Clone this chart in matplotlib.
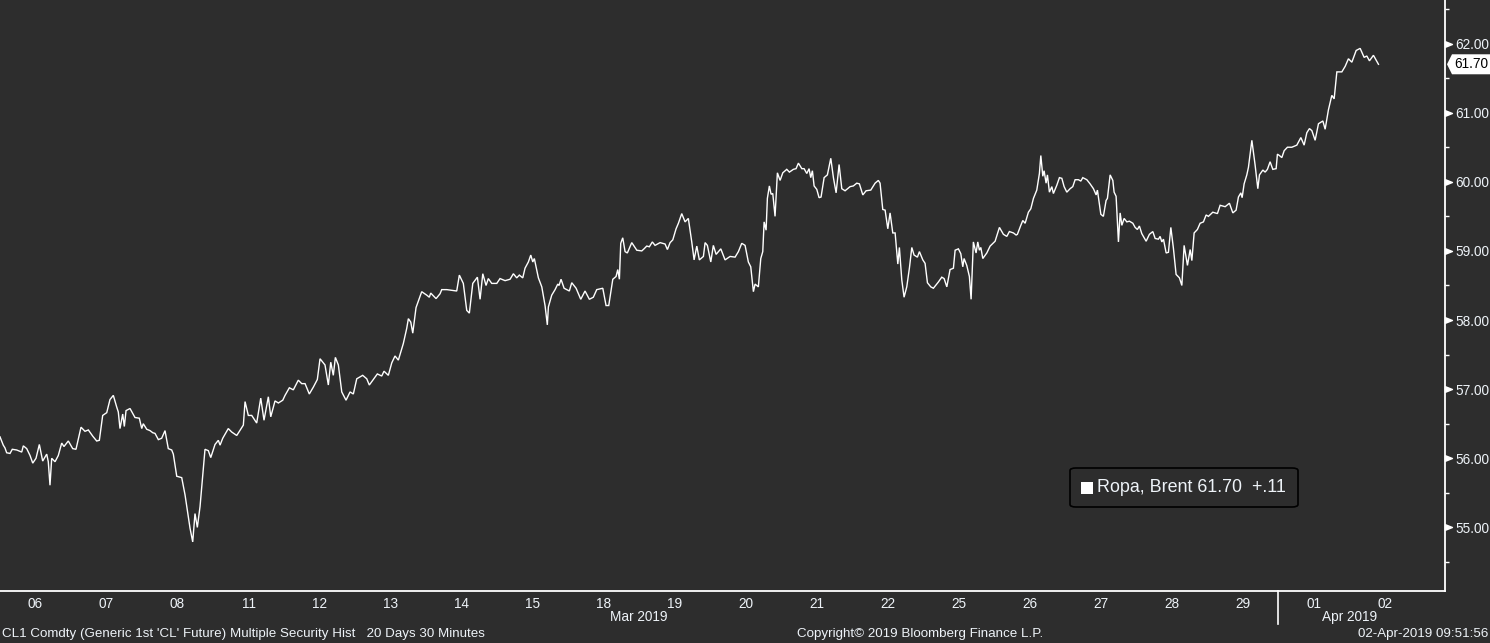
import numpy as np
import matplotlib
matplotlib.use('Agg')
import matplotlib.pyplot as plt
import matplotlib.transforms as mtransforms
from matplotlib.patches import FancyBboxPatch, Rectangle, Polygon
from matplotlib.lines import Line2D
from matplotlib.path import Path

# ---------------- data ----------------
# time in trading days since the open of the 06-Mar session, price in USD
t_days = [
    0.000, 0.046, 0.070, 0.094, 0.141, 0.173, 0.235, 0.306, 0.328, 0.376,
    0.423, 0.461, 0.507, 0.554, 0.601, 0.658, 0.680, 0.704, 0.728, 0.775,
    0.821, 0.869, 0.901, 0.962, 1.024, 1.070, 1.141, 1.197, 1.244, 1.306,
    1.362, 1.399, 1.446, 1.503, 1.549, 1.596, 1.644, 1.666, 1.690, 1.728,
    1.751, 1.775, 1.831, 1.901, 1.962, 1.996, 2.018, 2.066, 2.113, 2.151,
    2.183, 2.230, 2.277, 2.324, 2.370, 2.418, 2.441, 2.489, 2.559, 2.606,
    2.676, 2.714, 2.746, 2.779, 2.817, 2.887, 2.934, 2.968, 3.028, 3.075,
    3.099, 3.137, 3.215, 3.263, 3.334, 3.427, 3.451, 3.497, 3.545, 3.615,
    3.672, 3.718, 3.779, 3.813, 3.873, 3.920, 3.982, 4.014, 4.075, 4.131,
    4.201, 4.249, 4.296, 4.356, 4.413, 4.469, 4.507, 4.577, 4.624, 4.658,
    4.694, 4.723, 4.765, 4.813, 4.873, 4.930, 4.976, 5.024, 5.108, 5.165,
    5.201, 5.258, 5.314, 5.376, 5.408, 5.469, 5.517, 5.563, 5.610, 5.680,
    5.728, 5.751, 5.785, 5.813, 5.859, 5.939, 6.010, 6.046, 6.066, 6.141,
    6.197, 6.221, 6.292, 6.432, 6.469, 6.525, 6.573, 6.610, 6.658, 6.723,
    6.761, 6.799, 6.845, 6.877, 6.925, 6.996, 7.042, 7.113, 7.183, 7.230,
    7.277, 7.314, 7.362, 7.394, 7.441, 7.475, 7.503, 7.525, 7.582, 7.630,
    7.676, 7.708, 7.723, 7.770, 7.817, 7.855, 7.873, 7.901, 7.944, 8.018,
    8.052, 8.113, 8.179, 8.239, 8.300, 8.356, 8.404, 8.489, 8.535, 8.573,
    8.630, 8.676, 8.700, 8.723, 8.742, 8.770, 8.803, 8.835, 8.897, 8.968,
    9.038, 9.070, 9.108, 9.145, 9.187, 9.225, 9.296, 9.366, 9.399, 9.437,
    9.475, 9.521, 9.554, 9.601, 9.648, 9.694, 9.742, 9.775, 9.813, 9.849,
    9.906, 9.930, 9.962, 10.010, 10.046, 10.085, 10.151, 10.211, 10.282, 10.352,
    10.399, 10.446, 10.493, 10.539, 10.573, 10.610, 10.634, 10.680, 10.714, 10.742,
    10.761, 10.789, 10.807, 10.835, 10.859, 10.883, 10.915, 10.948, 10.986, 11.024,
    11.080, 11.117, 11.173, 11.211, 11.244, 11.292, 11.324, 11.362, 11.394, 11.418,
    11.441, 11.465, 11.503, 11.535, 11.563, 11.606, 11.652, 11.700, 11.737, 11.775,
    11.817, 11.855, 11.901, 11.972, 12.018, 12.066, 12.103, 12.151, 12.197, 12.263,
    12.324, 12.370, 12.394, 12.432, 12.465, 12.503, 12.535, 12.573, 12.606, 12.644,
    12.666, 12.700, 12.732, 12.770, 12.807, 12.841, 12.873, 12.920, 12.948, 12.996,
    13.028, 13.061, 13.108, 13.145, 13.215, 13.263, 13.296, 13.334, 13.380, 13.427,
    13.451, 13.497, 13.531, 13.559, 13.577, 13.615, 13.652, 13.676, 13.708, 13.746,
    13.770, 13.793, 13.813, 13.841, 13.897, 13.944, 14.014, 14.075, 14.131, 14.179,
    14.215, 14.272, 14.310, 14.328, 14.376, 14.404, 14.437, 14.483, 14.517, 14.554,
    14.601, 14.638, 14.658, 14.686, 14.704, 14.732, 14.751, 14.779, 14.813, 14.835,
    14.883, 14.920, 14.954, 14.986, 15.024, 15.070, 15.108, 15.141, 15.187, 15.221,
    15.249, 15.306, 15.352, 15.399, 15.437, 15.455, 15.503, 15.539, 15.577, 15.596,
    15.634, 15.672, 15.690, 15.718, 15.751, 15.775, 15.799, 15.831, 15.869, 15.906,
    15.954, 15.986, 16.018, 16.046, 16.080, 16.141, 16.187, 16.235, 16.268, 16.314,
    16.338, 16.362, 16.385, 16.423, 16.455, 16.489, 16.525, 16.563, 16.610, 16.644,
    16.676, 16.723, 16.761, 16.785, 16.817, 16.863, 16.901, 16.948, 16.986, 17.018,
    17.080, 17.145, 17.183, 17.254, 17.314, 17.362, 17.408, 17.441, 17.475, 17.493,
    17.521, 17.559, 17.582, 17.630, 17.676, 17.714, 17.737, 17.785, 17.817, 17.849,
    17.887, 17.925, 17.972, 17.990, 18.018, 18.052, 18.085, 18.131, 18.193, 18.263,
    18.320, 18.366, 18.404, 18.441, 18.475, 18.521, 18.568, 18.630, 18.662, 18.708,
    18.756, 18.789, 18.827, 18.897, 18.944, 18.990, 19.038, 19.099, 19.155, 19.211,
    19.249, 19.286, 19.342, 19.380, 19.413,
]
price = [
    56.31, 56.19, 56.15, 56.08, 56.07, 56.13, 56.12, 56.09, 56.18, 56.14,
    56.04, 55.93, 56.00, 56.20, 55.96, 56.06, 55.95, 55.61, 56.00, 55.95,
    56.04, 56.22, 56.17, 56.25, 56.14, 56.13, 56.45, 56.39, 56.41, 56.32,
    56.25, 56.26, 56.62, 56.66, 56.85, 56.91, 56.74, 56.67, 56.43, 56.64,
    56.46, 56.69, 56.72, 56.59, 56.58, 56.43, 56.50, 56.42, 56.40, 56.37,
    56.36, 56.27, 56.29, 56.40, 56.14, 56.12, 56.06, 55.74, 55.72, 55.47,
    54.99, 54.79, 55.20, 55.00, 55.30, 56.13, 56.11, 56.01, 56.20, 56.26,
    56.19, 56.29, 56.43, 56.38, 56.33, 56.48, 56.82, 56.62, 56.62, 56.51,
    56.87, 56.55, 56.89, 56.60, 56.83, 56.80, 56.84, 56.91, 57.02, 56.99,
    57.13, 57.08, 57.08, 56.93, 57.03, 57.14, 57.44, 57.35, 57.06, 57.39,
    57.20, 57.46, 57.35, 56.96, 56.84, 56.96, 56.93, 57.15, 57.20, 57.15,
    57.06, 57.14, 57.22, 57.19, 57.26, 57.20, 57.38, 57.48, 57.42, 57.66,
    57.88, 58.02, 57.97, 57.81, 58.18, 58.41, 58.36, 58.33, 58.39, 58.31,
    58.38, 58.44, 58.44, 58.42, 58.65, 58.53, 58.14, 58.10, 58.53, 58.62,
    58.30, 58.67, 58.50, 58.60, 58.53, 58.53, 58.60, 58.57, 58.59, 58.67,
    58.61, 58.65, 58.61, 58.75, 58.84, 58.94, 58.84, 58.89, 58.61, 58.48,
    58.21, 57.93, 58.19, 58.36, 58.44, 58.52, 58.50, 58.59, 58.46, 58.42,
    58.54, 58.46, 58.30, 58.42, 58.30, 58.33, 58.44, 58.46, 58.21, 58.21,
    58.59, 58.63, 58.73, 58.59, 59.11, 59.19, 58.99, 58.97, 59.12, 59.01,
    59.00, 59.03, 59.07, 59.06, 59.13, 59.08, 59.12, 59.10, 59.02, 59.12,
    59.16, 59.32, 59.40, 59.54, 59.42, 59.47, 59.13, 58.87, 59.07, 58.87,
    58.92, 59.12, 59.08, 58.84, 59.08, 58.95, 59.03, 58.87, 58.92, 58.91,
    58.99, 59.11, 59.08, 58.84, 58.77, 58.41, 58.52, 58.48, 58.89, 58.99,
    59.42, 59.30, 59.76, 59.94, 59.82, 59.83, 59.50, 60.13, 60.02, 60.13,
    60.18, 60.14, 60.18, 60.19, 60.27, 60.19, 60.19, 60.12, 60.19, 60.06,
    60.16, 59.94, 59.89, 59.77, 59.78, 60.06, 60.10, 60.34, 60.06, 59.84,
    60.25, 59.90, 59.87, 59.93, 59.94, 59.98, 59.97, 59.81, 59.87, 59.88,
    59.98, 60.02, 59.98, 59.60, 59.59, 59.32, 59.55, 59.26, 59.26, 58.81,
    59.05, 58.58, 58.33, 58.48, 58.75, 59.05, 58.94, 58.91, 58.99, 58.87,
    58.82, 58.54, 58.48, 58.46, 58.55, 58.62, 58.60, 58.48, 58.73, 58.75,
    59.01, 59.03, 58.96, 58.77, 58.89, 58.79, 58.63, 58.30, 59.13, 58.97,
    59.13, 59.01, 59.05, 58.89, 58.97, 59.07, 59.14, 59.34, 59.24, 59.21,
    59.28, 59.26, 59.23, 59.24, 59.37, 59.44, 59.40, 59.56, 59.61, 59.76,
    59.88, 60.12, 60.38, 60.08, 60.16, 59.98, 60.10, 59.85, 59.93, 59.83,
    59.95, 60.06, 60.05, 59.93, 59.85, 59.90, 59.93, 60.03, 60.03, 60.01,
    60.06, 60.03, 59.97, 59.90, 59.81, 59.88, 59.53, 59.50, 59.73, 59.76,
    60.10, 60.02, 59.85, 59.79, 59.13, 59.55, 59.37, 59.47, 59.42, 59.43,
    59.40, 59.34, 59.31, 59.36, 59.25, 59.14, 59.24, 59.28, 59.18, 59.17,
    59.21, 59.13, 59.17, 58.97, 58.98, 59.34, 59.04, 58.66, 58.61, 58.50,
    59.08, 58.79, 59.02, 58.86, 59.26, 59.31, 59.40, 59.42, 59.52, 59.50,
    59.56, 59.54, 59.66, 59.64, 59.69, 59.55, 59.59, 59.78, 59.84, 59.77,
    59.97, 60.10, 60.21, 60.60, 60.24, 59.90, 60.10, 60.17, 60.14, 60.18,
    60.29, 60.18, 60.19, 60.40, 60.38, 60.35, 60.45, 60.50, 60.50, 60.53,
    60.64, 60.53, 60.71, 60.77, 60.74, 60.60, 60.84, 60.88, 60.76, 61.04,
    61.25, 61.20, 61.59, 61.59, 61.67, 61.78, 61.73, 61.90, 61.93, 61.80,
    61.82, 61.75, 61.83, 61.76, 61.70,
]
day_labels = ['06', '07', '08', '11', '12', '13', '14', '15', '18', '19',
              '20', '21', '22', '25', '26', '27', '28', '29', '01', '02']
month_names = ['Mar 2019', 'Apr 2019']
y_major = [55, 56, 57, 58, 59, 60, 61, 62]
series_name = 'Ropa, Brent'
last_value = 61.70
last_change = '+.11'
footer_left = "CL1 Comdty (Generic 1st 'CL' Future) Multiple Security Hist   20 Days 30 Minutes"
footer_mid = "Copyright\u00a9 2019 Bloomberg Finance L.P."
footer_right = "02-Apr-2019 09:51:56"

# ---------------- style ----------------
BG = '#2d2d2d'
FG = '#eef3f8'
FONT = ['Liberation Sans', 'DejaVu Sans']
plt.rcParams['font.family'] = FONT

W, H = 1490, 643
fig = plt.figure(figsize=(W / 100, H / 100), dpi=100, facecolor=BG)
ax = fig.add_axes([0, 52 / H, 1445 / W, 591 / H])
ax.set_facecolor(BG)

ax.plot(t_days, price, color='white', lw=1.0, solid_joinstyle='miter')

ndays = len(day_labels)
ax.set_xlim(0, ndays + 0.35)
ax.set_ylim(54.08, 62.63)

for s in ['left', 'top']:
    ax.spines[s].set_visible(False)
for s in ['right', 'bottom']:
    ax.spines[s].set_color('white')
    ax.spines[s].set_linewidth(1.3)

# y axis on the right
ax.yaxis.tick_right()
ax.set_yticks(y_major)
ax.set_yticklabels([f'{v:.2f}' for v in y_major])
ax.set_yticks(np.array(y_major[:1] + y_major) + np.r_[-0.5, np.full(len(y_major), 0.5)], minor=True)
ax.tick_params(axis='y', which='major', length=0, pad=7.5, labelsize=9.8, labelcolor=FG)
ax.tick_params(axis='y', which='minor', length=3, width=1, color='white', direction='out')

# triangle markers for major ticks
trans_y = mtransforms.blended_transform_factory(ax.transAxes, ax.transData)
tri = Path([(0, -0.6), (0, 0.6), (1.5, 0), (0, -0.6)],
           [Path.MOVETO, Path.LINETO, Path.LINETO, Path.CLOSEPOLY])
ax.plot([1.0] * len(y_major), y_major, linestyle='none', marker=tri, ms=10,
        color='white', clip_on=False, transform=trans_y)

# last value tag (pentagon pointing at the axis)
px, py = trans_y.transform((1.0, last_value))
tag = Polygon([(px + 2, py), (px + 7, py + 10), (W, py + 10), (W, py - 10), (px + 7, py - 10)],
              closed=True, transform=mtransforms.IdentityTransform(),
              fc='white', ec='none', zorder=2)
fig.add_artist(tag)
fig.text(px + 9, py, f'{last_value:.2f}', transform=mtransforms.IdentityTransform(),
         ha='left', va='center', fontsize=9.8, color='black', zorder=3)

# x axis
ax.set_xticks(np.arange(ndays) + 0.5)
ax.set_xticklabels(day_labels)
ax.tick_params(axis='x', length=0, pad=4, labelsize=9.8, labelcolor=FG)

# month labels and separator
split = day_labels.index('01')
trans_xf = mtransforms.blended_transform_factory(ax.transData, fig.transFigure)
fig.text(split / 2, (H - 617) / H, month_names[0], transform=trans_xf,
         ha='center', va='center', fontsize=9.8, color=FG)
fig.text((split + ndays) / 2, (H - 617) / H, month_names[1], transform=trans_xf,
         ha='center', va='center', fontsize=9.8, color=FG)
fig.add_artist(Line2D([split, split], [52 / H, 19 / H], transform=trans_xf,
                      color='white', lw=1.2))

# footer
fig.text(2 / W, (H - 634) / H, footer_left, ha='left', va='center', fontsize=9.6, color=FG)
fig.text(920 / W, (H - 634) / H, footer_mid, ha='center', va='center', fontsize=9.6, color=FG)
fig.text(1488 / W, (H - 634) / H, footer_right, ha='right', va='center', fontsize=9.6, color=FG)

# legend box
box = FancyBboxPatch((1070 / W, (H - 507) / H), 228 / W, 39 / H,
                     boxstyle='round,pad=0,rounding_size=0.004',
                     transform=fig.transFigure, fc=BG, ec='black', lw=1.2)
fig.add_artist(box)
fig.add_artist(Rectangle((1081 / W, (H - 494) / H), 12 / W, 12 / H,
                         transform=fig.transFigure, fc='white', ec='none'))
fig.text(1097 / W, (H - 488) / H, f'{series_name} {last_value:.2f}  {last_change}',
         ha='left', va='center', fontsize=12.9, color=FG)

fig.savefig('out.png', dpi=100, facecolor=BG)
